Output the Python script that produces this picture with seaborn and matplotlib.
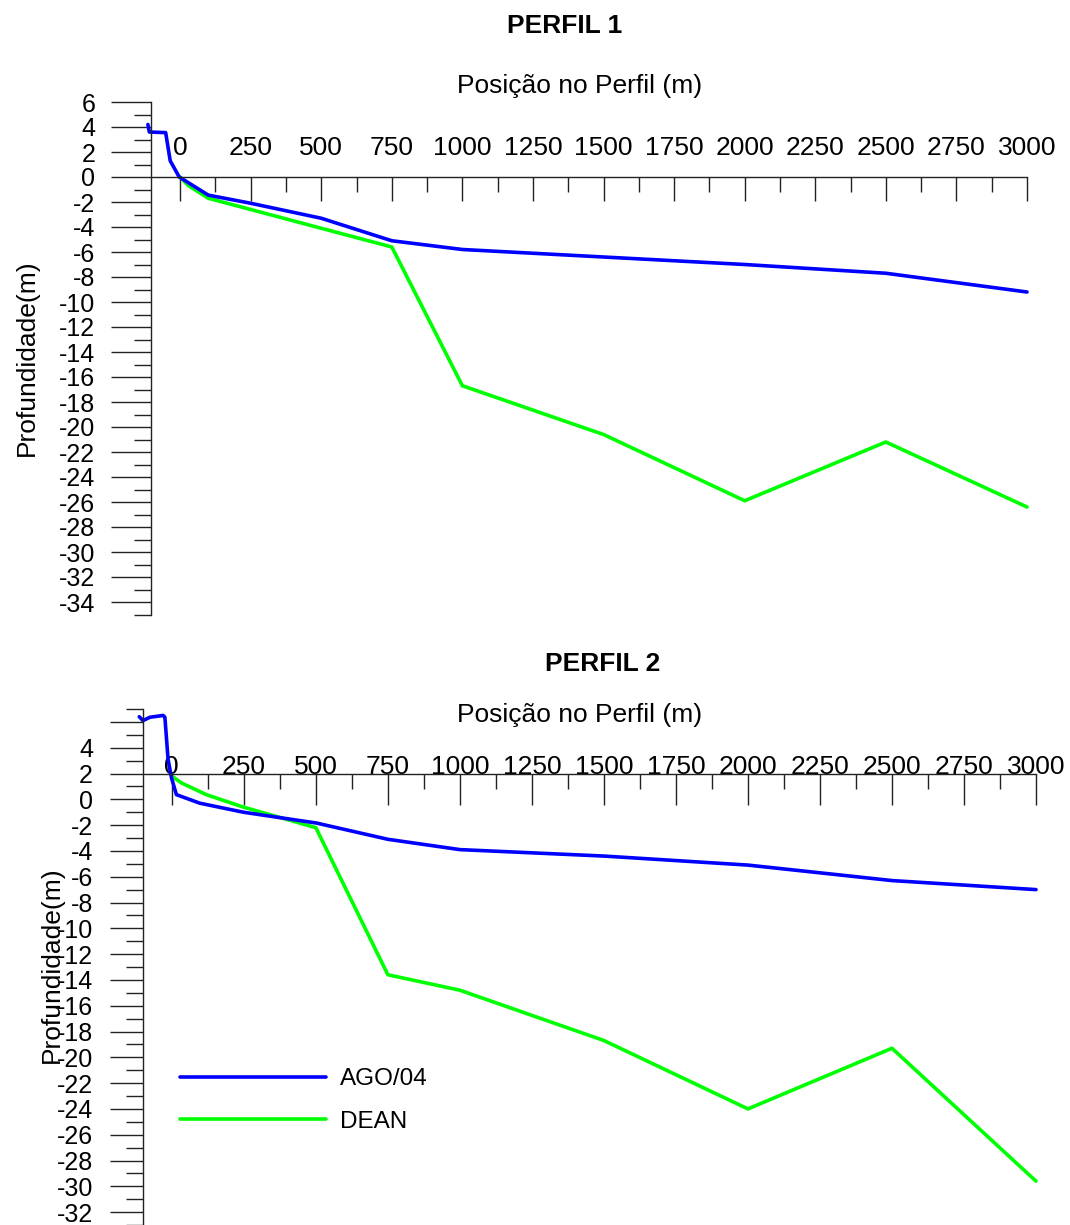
import matplotlib
matplotlib.use("Agg")
import matplotlib.pyplot as plt
from matplotlib.ticker import MultipleLocator
from matplotlib.lines import Line2D
import seaborn as sns
import pandas as pd

sns.set_style("white")
plt.rcParams["font.family"] = ["Liberation Sans", "DejaVu Sans"]
plt.rcParams["text.color"] = "black"
plt.rcParams["xtick.color"] = "black"
plt.rcParams["ytick.color"] = "black"

# PERFIL 1
p1_ago_x = [-114, -109, -51, -35, -3, 100, 250, 500, 750, 1000, 1500, 2000, 2500, 3000]
p1_ago_y = [4.2, 3.6, 3.55, 1.3, 0.0, -1.45, -2.1, -3.3, -5.1, -5.8, -6.4, -7.0, -7.7, -9.2]
p1_dean_x = [0, 30, 100, 250, 500, 750, 1000, 1500, 2000, 2500, 3000]
p1_dean_y = [0.0, -0.7, -1.7, -2.6, -4.1, -5.6, -16.7, -20.6, -25.9, -21.2, -26.4]

# PERFIL 2
p2_ago_x = [-113, -100, -76, -30, -24, -13, -1, 16, 97, 248, 502, 750, 1000, 1500, 2000, 2500, 3000]
p2_ago_y = [6.4, 6.1, 6.36, 6.5, 6.36, 3.1, 1.65, 0.36, -0.3, -1.0, -1.84, -3.1, -3.9, -4.4, -5.1, -6.3, -7.0]
p2_dean_x = [0, 34, 120, 248, 500, 750, 1000, 1500, 2000, 2500, 3000]
p2_dean_y = [1.8, 1.26, 0.36, -0.6, -2.2, -13.6, -14.8, -18.7, -24.0, -19.3, -29.6]

x_ticks = list(range(0, 3001, 250))
p1_y_ticks = list(range(-34, 7, 2))
p2_y_ticks = list(range(-32, 7, 2))
p2_y_labels = [str(v) if v != 6 else "" for v in p2_y_ticks]

BLUE = "#0000FF"
GREEN = "#00FF00"
FS = 19
LW = 2.6
AXC = "#222222"


def make_df(x, y):
    return pd.DataFrame({"x": x, "y": y})


def draw_lines(ax, dean_x, dean_y, ago_x, ago_y):
    sns.lineplot(data=make_df(dean_x, dean_y), x="x", y="y", ax=ax, color=GREEN,
                 linewidth=LW, sort=False, estimator=None)
    sns.lineplot(data=make_df(ago_x, ago_y), x="x", y="y", ax=ax, color=BLUE,
                 linewidth=LW, sort=False, estimator=None)
    for ln in ax.get_lines():
        ln.set_clip_on(False)


def style_axes(ax, xlim, ylim, x_axis_at, yticks, ylabels, xtick_len, xpad, ytick_len, ypad):
    ax.set_xlim(*xlim)
    ax.set_ylim(*ylim)
    for s in ["right", "bottom"]:
        ax.spines[s].set_visible(False)
    ax.spines["top"].set_position(("data", x_axis_at))
    ax.spines["top"].set_bounds(xlim[0], 3000)
    for s in ["top", "left"]:
        ax.spines[s].set_linewidth(1.0)
        ax.spines[s].set_color(AXC)
    ax.xaxis.set_ticks_position("top")
    ax.set_xticks(x_ticks)
    ax.set_xticklabels([str(v) for v in x_ticks])
    ax.xaxis.set_minor_locator(MultipleLocator(125))
    ax.tick_params(axis="x", which="both", top=True, bottom=False, labeltop=True, labelbottom=False)
    ax.tick_params(axis="x", which="major", direction="in", length=xtick_len,
                   width=1.0, pad=xpad, labelsize=FS, color=AXC)
    ax.tick_params(axis="x", which="minor", direction="in", length=11, width=1.0, color=AXC)
    ax.set_yticks(yticks)
    ax.set_yticklabels(ylabels)
    ax.yaxis.set_minor_locator(MultipleLocator(1))
    ax.tick_params(axis="y", which="both", left=True, right=False)
    ax.tick_params(axis="y", which="major", direction="out", length=ytick_len, width=1.0,
                   pad=ypad, labelsize=FS - 1, color=AXC)
    ax.tick_params(axis="y", which="minor", direction="out", length=12, width=1.0, color=AXC)
    ax.set_xlabel("")
    ax.set_ylabel("")
    ax.grid(False)


fig = plt.figure(figsize=(10.7, 12.25), dpi=100)

ax1 = fig.add_axes([151 / 1070, 1 - 614.5 / 1225, 876 / 1070, 512.5 / 1225])
draw_lines(ax1, p1_dean_x, p1_dean_y, p1_ago_x, p1_ago_y)
style_axes(ax1, (-103, 3000), (-35, 6), 0, p1_y_ticks, [str(v) for v in p1_y_ticks],
           17, 12, 29, 11)

ax2 = fig.add_axes([143 / 1070, 0.0, 893 / 1070, 516 / 1225])
draw_lines(ax2, p2_dean_x, p2_dean_y, p2_ago_x, p2_ago_y)
style_axes(ax2, (-100, 3000), (-33, 7), 2, p2_y_ticks, p2_y_labels, 22, -4, 24, 12)

handles = [Line2D([], [], color=BLUE, linewidth=LW), Line2D([], [], color=GREEN, linewidth=LW)]
ax2.legend(handles, ["AGO/04", "DEAN"], loc="upper left",
           bbox_to_anchor=(180 / 1070, 1 - 1068 / 1225), bbox_transform=fig.transFigure,
           frameon=False, borderpad=0, borderaxespad=0, handlelength=6.0,
           handletextpad=0.6, labelspacing=0.85, fontsize=17.5)

fig.text(565 / 1070, 1 - 26 / 1225, "PERFIL 1", ha="center", va="center",
         fontsize=FS, fontweight="bold")
fig.text(580 / 1070, 1 - 86 / 1225, "Posição no Perfil (m)", ha="center", va="center", fontsize=FS)
fig.text(27 / 1070, 1 - 358 / 1225, "Profundidade(m)", ha="center", va="center",
         rotation=90, fontsize=FS)

fig.text(603 / 1070, 1 - 664 / 1225, "PERFIL 2", ha="center", va="center",
         fontsize=FS, fontweight="bold")
fig.text(580 / 1070, 1 - 715 / 1225, "Posição no Perfil (m)", ha="center", va="center", fontsize=FS)
fig.text(52 / 1070, 1 - 965 / 1225, "Profundidade(m)", ha="center", va="center",
         rotation=90, fontsize=FS)

fig.savefig("out.png", dpi=100)
